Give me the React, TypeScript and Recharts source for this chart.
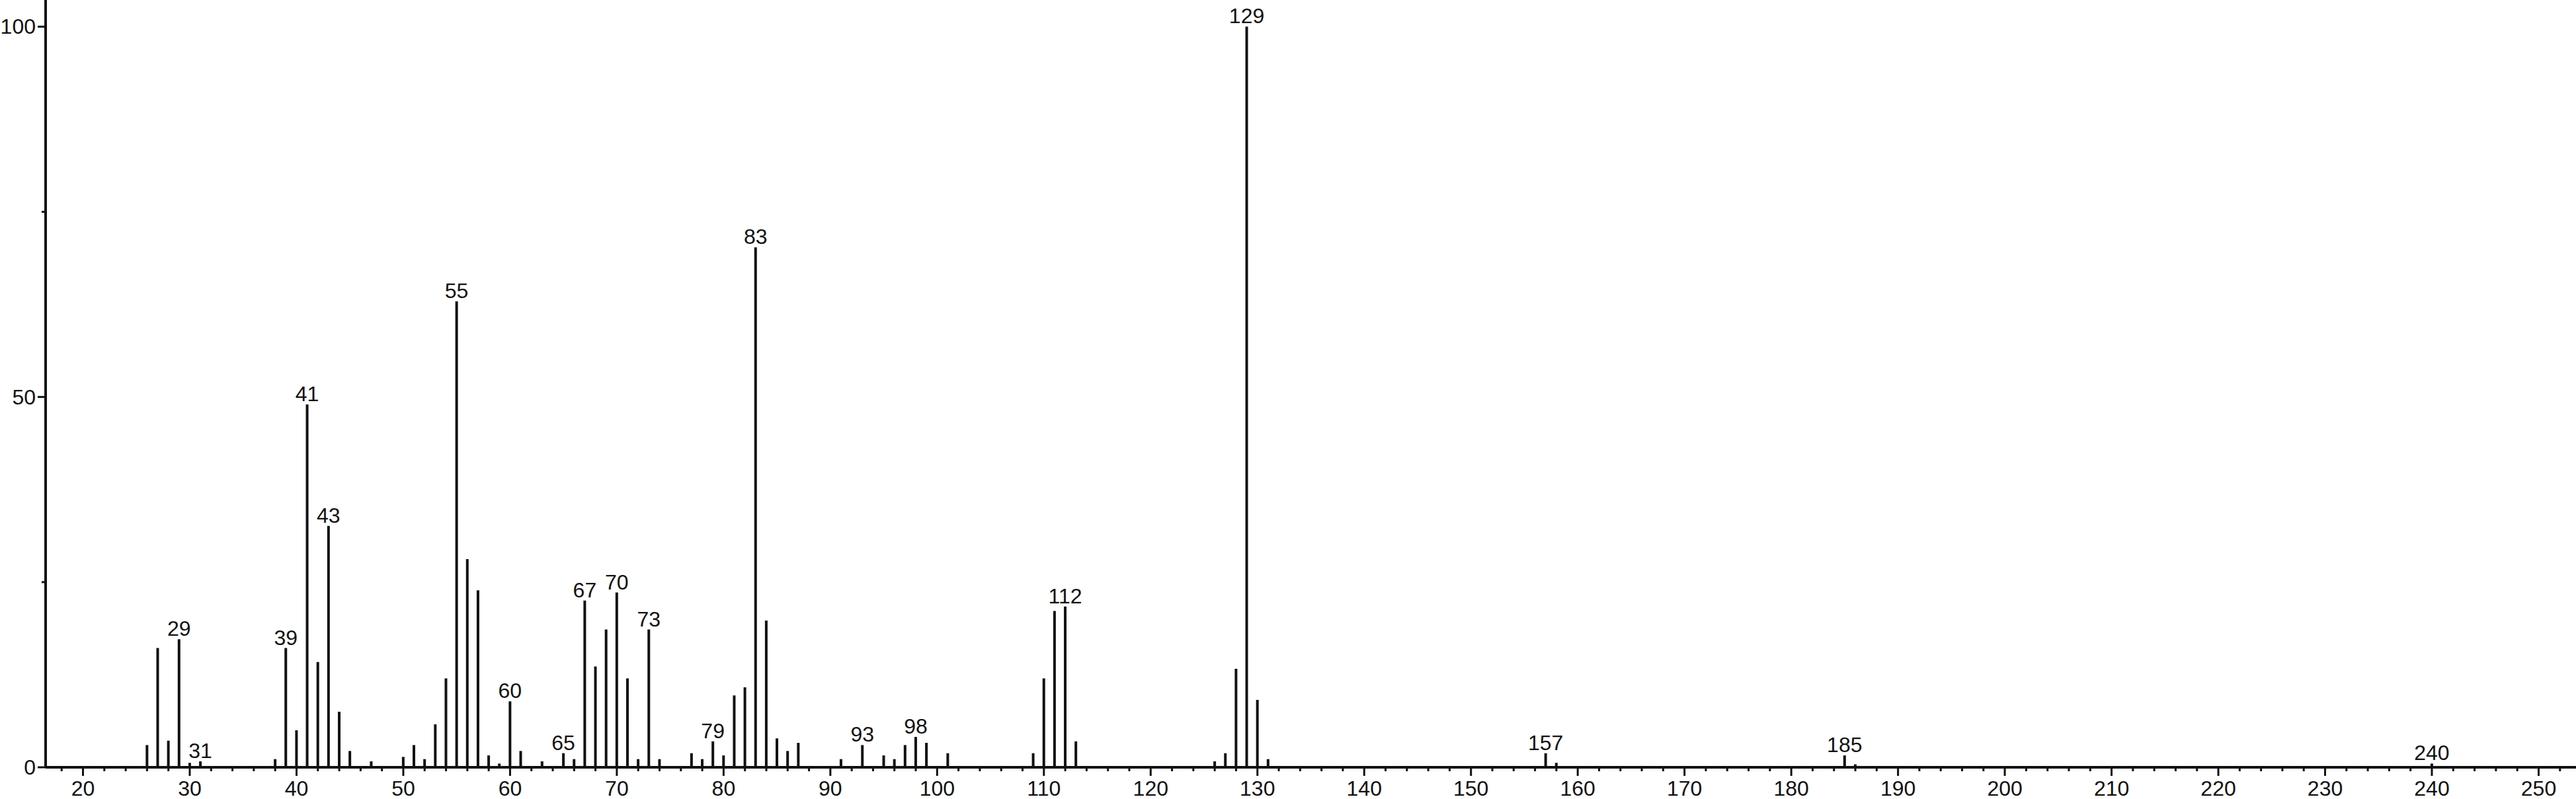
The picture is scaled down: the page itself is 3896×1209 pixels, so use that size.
import React from 'react';
import { BarChart, Bar, XAxis, YAxis, LabelList } from 'recharts';

// m/z values and relative intensities (%)
const massValues = [
  26, 27, 28, 29, 30, 31, 38, 39, 40, 41, 42, 43, 44, 45, 47, 50, 51, 52, 53, 54,
  55, 56, 57, 58, 59, 60, 61, 63, 65, 66, 67, 68, 69, 70, 71, 72, 73, 74, 77, 78,
  79, 80, 81, 82, 83, 84, 85, 86, 87, 91, 93, 95, 96, 97, 98, 99, 101, 109, 110, 111,
  112, 113, 126, 127, 128, 129, 130, 131, 157, 158, 185, 186, 240,
];
const intensities = [
  3.0, 16.1, 3.6, 17.3, 0.6, 0.8, 1.1, 16.1, 5.0, 49.0, 14.2, 32.6, 7.5, 2.2, 0.8, 1.4, 3.0, 1.1, 5.8, 12.0,
  62.9, 28.1, 23.9, 1.6, 0.5, 8.9, 2.2, 0.8, 1.9, 1.1, 22.5, 13.6, 18.6, 23.6, 12.0, 1.1, 18.6, 1.1, 1.9, 1.1,
  3.5, 1.6, 9.7, 10.8, 70.2, 19.8, 3.9, 2.2, 3.3, 1.1, 3.0, 1.6, 1.1, 3.0, 4.1, 3.3, 1.9, 1.9, 12.0, 21.1,
  21.7, 3.5, 0.8, 1.9, 13.3, 100, 9.1, 1.1, 1.9, 0.6, 1.6, 0.4, 0.5,
];
const labeledMasses = [29, 31, 39, 41, 43, 55, 60, 65, 67, 70, 73, 79, 83, 93, 98, 112, 129, 157, 185, 240];

const xMajorTicks = [20, 30, 40, 50, 60, 70, 80, 90, 100, 110, 120, 130, 140, 150, 160, 170, 180, 190, 200, 210, 220, 230, 240, 250];
const yTicks = [0, 25, 50, 75, 100];
const yLabeledTicks = [0, 50, 100];

const xTicks: number[] = [];
for (let t = 18; t <= 252; t += 2) xTicks.push(t);

const data = massValues.map((m, i) => ({
  mz: m,
  v: intensities[i],
  lbl: labeledMasses.includes(m) ? String(m) : null,
}));

const INK = '#111';
const FONT = '"Liberation Sans", Arial, sans-serif';

const XTick = (props: any) => {
  const { x, y, payload } = props;
  const major = xMajorTicks.includes(payload.value);
  return (
    <g>
      <line x1={x} x2={x} y1={y} y2={y + (major ? 13 : 6)} stroke={INK} strokeWidth={3} />
      {major && (
        <text x={x} y={y + 43} textAnchor="middle" fontSize={32} fontFamily={FONT} fill={INK}>
          {payload.value}
        </text>
      )}
    </g>
  );
};

const YTick = (props: any) => {
  const { x, y, payload } = props;
  const major = yLabeledTicks.includes(payload.value);
  return (
    <g>
      <line x1={x - (major ? 12 : 6)} x2={x} y1={y} y2={y} stroke={INK} strokeWidth={3} />
      {major && (
        <text x={x - 15} y={y + 11} textAnchor="end" fontSize={32} fontFamily={FONT} fill={INK}>
          {payload.value}
        </text>
      )}
    </g>
  );
};

export default function App() {
  return (
    <div style={{ position: 'absolute', left: 0, top: 0, background: '#fff' }}>
      <BarChart width={3896} height={1209} data={data} margin={{ top: 0, right: 0, bottom: 0, left: 0 }}>
        <XAxis
          dataKey="mz"
          type="number"
          domain={[16.5, 253.5]}
          allowDataOverflow
          ticks={xTicks}
          interval={0}
          height={48}
          tickSize={0}
          tickMargin={0}
          tickLine={false}
          axisLine={{ stroke: INK, strokeWidth: 4 }}
          tick={<XTick />}
        />
        <YAxis
          type="number"
          domain={[0, 103.6]}
          allowDataOverflow
          ticks={yTicks}
          interval={0}
          width={69}
          tickSize={0}
          tickMargin={0}
          tickLine={false}
          axisLine={{ stroke: INK, strokeWidth: 4 }}
          tick={<YTick />}
        />
        <Bar dataKey="v" fill={INK} barSize={4} isAnimationActive={false}>
          <LabelList dataKey="lbl" position="top" offset={5} fontSize={32} fontFamily={FONT} fill={INK} />
        </Bar>
      </BarChart>
    </div>
  );
}
